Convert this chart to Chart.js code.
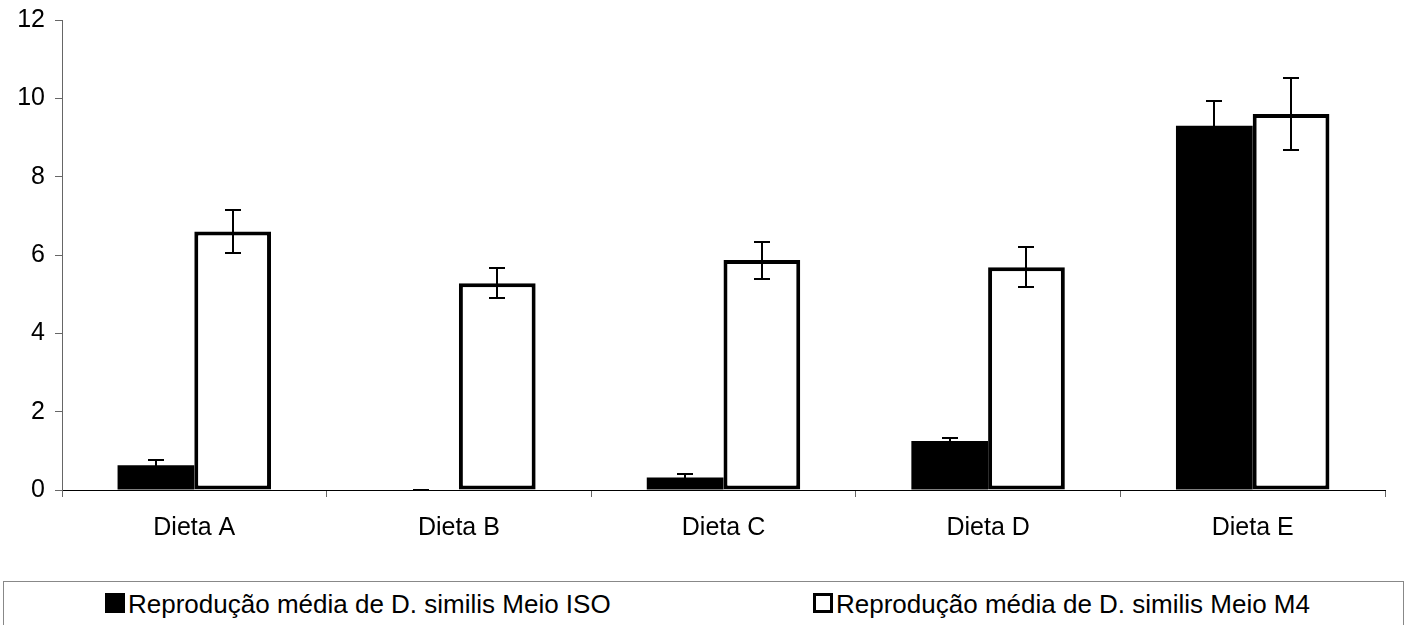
<!DOCTYPE html>
<html>
<head>
<meta charset="utf-8">
<script src="https://cdn.jsdelivr.net/npm/chart.js@4"></script>
<style>
  body { margin: 0; background: #fff; font-family: "Liberation Sans", Arial, sans-serif; }
  #wrap { position: relative; width: 1409px; height: 625px; overflow: hidden; }
  #grafico { position: absolute; left: 0; top: 0; }
  #legenda {
    position: absolute; left: 3px; top: 581px; width: 1401px; height: 70px;
    border: 1px solid #888; box-sizing: border-box;
  }
  .item { position: absolute; top: 9px; font-size: 26px; line-height: 26px; color: #000; white-space: nowrap; }
  .caixa { display: inline-block; width: 20px; height: 20px; box-sizing: border-box; vertical-align: 0; margin-right: 3px; }
</style>
</head>
<body>
<div id="wrap">
  <canvas id="grafico" width="1409" height="575"></canvas>
  <div id="legenda"></div>
</div>
<script>
const categorias = ['Dieta A', 'Dieta B', 'Dieta C', 'Dieta D', 'Dieta E'];
const series = ['Reprodução média de D. similis Meio ISO', 'Reprodução média de D. similis Meio M4'];
const mediaISO = [0.63, 0, 0.32, 1.25, 9.3];
const erroISO = [0.13, 0.01, 0.08, 0.07, 0.64];
const mediaM4 = [6.6, 5.28, 5.87, 5.69, 9.6];
const erroM4 = [0.56, 0.39, 0.47, 0.51, 0.91];
const yMin = 0;
const yMax = 12;
const yPasso = 2;

// barras de erro desenhadas com a escala do proprio grafico
const barrasErro = {
  id: 'barrasErro',
  afterDatasetsDraw(chart) {
    const ctx = chart.ctx;
    const y = chart.scales.y;
    ctx.save();
    ctx.strokeStyle = '#000';
    ctx.lineWidth = 2;
    chart.data.datasets.forEach((ds, i) => {
      const meta = chart.getDatasetMeta(i);
      meta.data.forEach((bar, j) => {
        const v = ds.data[j];
        const e = ds.erros[j];
        const topo = Math.round(y.getPixelForValue(v + e));
        const base = Math.round(y.getPixelForValue(v - e));
        const x = Math.round(bar.x);
        ctx.beginPath();
        ctx.moveTo(x, topo);
        ctx.lineTo(x, base);
        ctx.moveTo(x - 8, topo);
        ctx.lineTo(x + 8, topo);
        ctx.moveTo(x - 8, base);
        ctx.lineTo(x + 8, base);
        ctx.stroke();
      });
    });
    ctx.restore();
  }
};

const fonte = { family: 'Liberation Sans', size: 25 };

new Chart(document.getElementById('grafico').getContext('2d'), {
  type: 'bar',
  data: {
    labels: categorias,
    datasets: [
      {
        label: series[0],
        data: mediaISO,
        erros: erroISO,
        backgroundColor: '#000',
        borderWidth: 0,
      },
      {
        label: series[1],
        data: mediaM4,
        erros: erroM4,
        backgroundColor: '#fff',
        borderColor: '#000',
        borderWidth: 4,
        borderSkipped: false,
      },
    ],
  },
  options: {
    responsive: false,
    animation: false,
    categoryPercentage: 0.58,
    barPercentage: 1.0,
    layout: { padding: { top: 20, right: 24, left: 0, bottom: 0 } },
    plugins: {
      legend: { display: false },
      tooltip: { enabled: false },
    },
    scales: {
      x: {
        offset: true,
        grid: { offset: true, drawOnChartArea: false, tickLength: 7, tickColor: '#666' },
        border: { color: '#000', width: 1 },
        ticks: { color: '#000', padding: 16, font: fonte },
        afterFit: (scale) => { scale.height = 85; },
      },
      y: {
        min: yMin,
        max: yMax,
        ticks: { stepSize: yPasso, color: '#000', padding: 10, font: fonte },
        grid: { drawOnChartArea: false, tickLength: 7, tickColor: '#666' },
        border: { color: '#666', width: 1 },
        afterFit: (scale) => {
          scale.width = 62;
          scale.paddingTop = 0;
          scale.paddingBottom = 0;
        },
      },
    },
  },
  plugins: [barrasErro],
});

// legenda com caixa, como no original
const legenda = document.getElementById('legenda');
const posicoes = [101, 809];
series.forEach((nome, i) => {
  const item = document.createElement('div');
  item.className = 'item';
  item.style.left = posicoes[i] + 'px';
  const caixa = document.createElement('span');
  caixa.className = 'caixa';
  caixa.style.background = i === 0 ? '#000' : '#fff';
  caixa.style.border = '3px solid #000';
  item.appendChild(caixa);
  item.appendChild(document.createTextNode(nome));
  legenda.appendChild(item);
});
</script>
</body>
</html>
